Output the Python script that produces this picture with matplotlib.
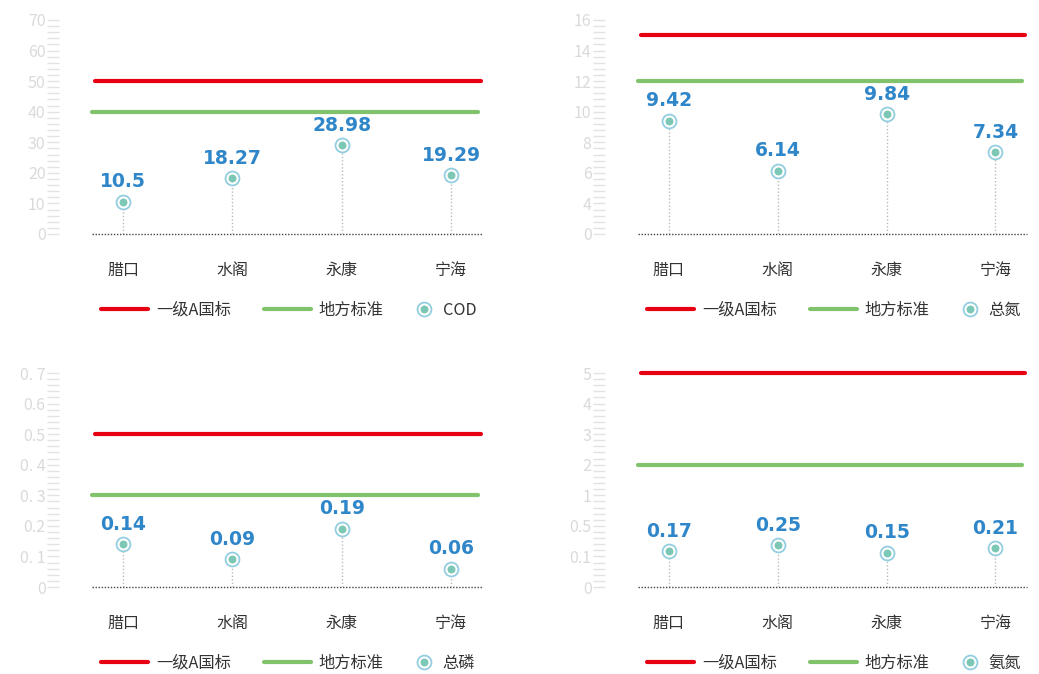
import numpy as np
import matplotlib
matplotlib.use('Agg')
import matplotlib.pyplot as plt
from matplotlib.lines import Line2D

plt.rcParams['font.family'] = ['Noto Sans CJK SC', 'DejaVu Sans']

# data
sites = ['腊口', '水阁', '永康', '宁海']
cod = [10.5, 18.27, 28.98, 19.29]
tn = [9.42, 6.14, 9.84, 7.34]
tp = [0.14, 0.09, 0.19, 0.06]
nh = [0.17, 0.25, 0.15, 0.21]
names = ['COD', '总氮', '总磷', '氨氮']
std_a = [50, 15, 0.5, 5]       # 一级A国标
std_local = [40, 12, 0.3, 2]   # 地方标准
levels = [
    [0, 10, 20, 30, 40, 50, 60, 70],
    [0, 4, 6, 8, 10, 12, 14, 16],
    [0, 0.1, 0.2, 0.3, 0.4, 0.5, 0.6, 0.7],
    [0, 0.1, 0.5, 1, 2, 3, 4, 5],
]
tick_text = [
    ['0', '10', '20', '30', '40', '50', '60', '70'],
    ['0', '4', '6', '8', '10', '12', '14', '16'],
    ['0', '0. 1', '0.2', '0. 3', '0. 4', '0.5', '0.6', '0. 7'],
    ['0', '0.1', '0.5', '1', '2', '3', '4', '5'],
]
series = [cod, tn, tp, nh]

W, H = 1039, 674
fig = plt.figure(figsize=(W / 100, H / 100), dpi=100)

# axes boxes in pixels: left, right, top, bottom
boxes = [(92, 483, 20, 234), (638, 1027, 20, 234),
         (92, 483, 373, 587), (638, 1027, 373, 587)]

RED = '#e60012'
GREEN = '#80c36c'
BLUE = '#2f86c8'
RING = '#93cde0'
DOT = '#7cc7b5'

for i in range(4):
    l, r, t, b = boxes[i]
    ax = fig.add_axes([l / W, 1 - b / H, (r - l) / W, (b - t) / H])
    lv = np.array(levels[i], dtype=float)
    idx = np.arange(len(lv), dtype=float)
    fwd = lambda v, lv=lv, idx=idx: np.interp(v, lv, idx)
    inv = lambda u, lv=lv, idx=idx: np.interp(u, idx, lv)
    ax.set_yscale('function', functions=(fwd, inv))
    ax.set_ylim(lv[0], lv[-1])
    ax.set_xlim(-0.284, 3.29)

    vals = series[i]
    x = np.arange(len(sites))

    ax.axhline(std_a[i], xmin=0.008, xmax=0.995, color=RED, lw=3,
               solid_capstyle='round', zorder=2, clip_on=False)
    ax.axhline(std_local[i], xmin=0.0, xmax=0.988, color=GREEN, lw=3,
               solid_capstyle='round', zorder=2, clip_on=False)
    ax.axhline(0, color='#444444', lw=1, linestyle=(0, (1, 1.2)), zorder=2,
               clip_on=False)
    ax.vlines(x, 0, vals, color='#bbbbbb', lw=1, linestyle=(0, (1, 1.5)), zorder=1)
    ax.scatter(x, vals, s=100, facecolor='white', edgecolor=RING,
               linewidth=1.3, zorder=4)
    ax.scatter(x, vals, s=22, color=DOT, zorder=5)
    for xi, v in zip(x, vals):
        ax.annotate(str(v), (xi, v), xytext=(0, 7.5), textcoords='offset points',
                    ha='center', va='bottom', fontsize=13.5, fontweight='bold',
                    color=BLUE, family='DejaVu Sans')

    # axis styling
    for s in ['top', 'right', 'bottom', 'left']:
        ax.spines[s].set_visible(False)
    ax.spines['left'].set_position(('outward', 45 * 0.72))
    ax.set_yticks(lv)
    ax.set_yticklabels(tick_text[i])
    ax.set_yticks(inv(np.arange(0, len(lv) - 1 + 0.01, 0.2)), minor=True)
    ax.yaxis.set_minor_formatter(plt.NullFormatter())
    ax.tick_params(axis='y', which='both', direction='in', length=12 * 0.72,
                   width=1, color='#e3e3e3', labelcolor='#dadada',
                   labelsize=11.5, pad=1)
    ax.set_xticks(x)
    ax.set_xticklabels(sites)
    ax.tick_params(axis='x', length=0, pad=20, labelsize=11.5, labelcolor='#333333')

    # legend: two parts so the marker item gets a short handle
    pw, ph = r - l, b - t
    ly = -(310 - 234) / ph
    h_red = Line2D([], [], color=RED, lw=3, solid_capstyle='round')
    h_green = Line2D([], [], color=GREEN, lw=3, solid_capstyle='round')
    leg1 = ax.legend([h_red, h_green], ['一级A国标', '地方标准'],
                     loc='center left', bbox_to_anchor=((101 - 92) / pw, ly),
                     ncol=2, frameon=False, fontsize=11.7, handlelength=2.9,
                     handletextpad=0.5, columnspacing=2.0,
                     borderpad=0, borderaxespad=0)
    for txt in leg1.get_texts():
        txt.set_color('#333333')
    ax.add_artist(leg1)
    h_ring = Line2D([], [], marker='o', ls='none', markersize=10,
                    markerfacecolor='white', markeredgecolor=RING, markeredgewidth=1.3)
    h_dot = Line2D([], [], marker='o', ls='none', markersize=4.7, color=DOT)
    leg2 = ax.legend([(h_ring, h_dot)], [names[i]],
                     loc='center left', bbox_to_anchor=((415 - 92) / pw, ly),
                     frameon=False, fontsize=11.7, handlelength=1.1,
                     handletextpad=0.6, borderpad=0, borderaxespad=0)
    for txt in leg2.get_texts():
        txt.set_color('#333333')

fig.savefig('out.png', dpi=100)
